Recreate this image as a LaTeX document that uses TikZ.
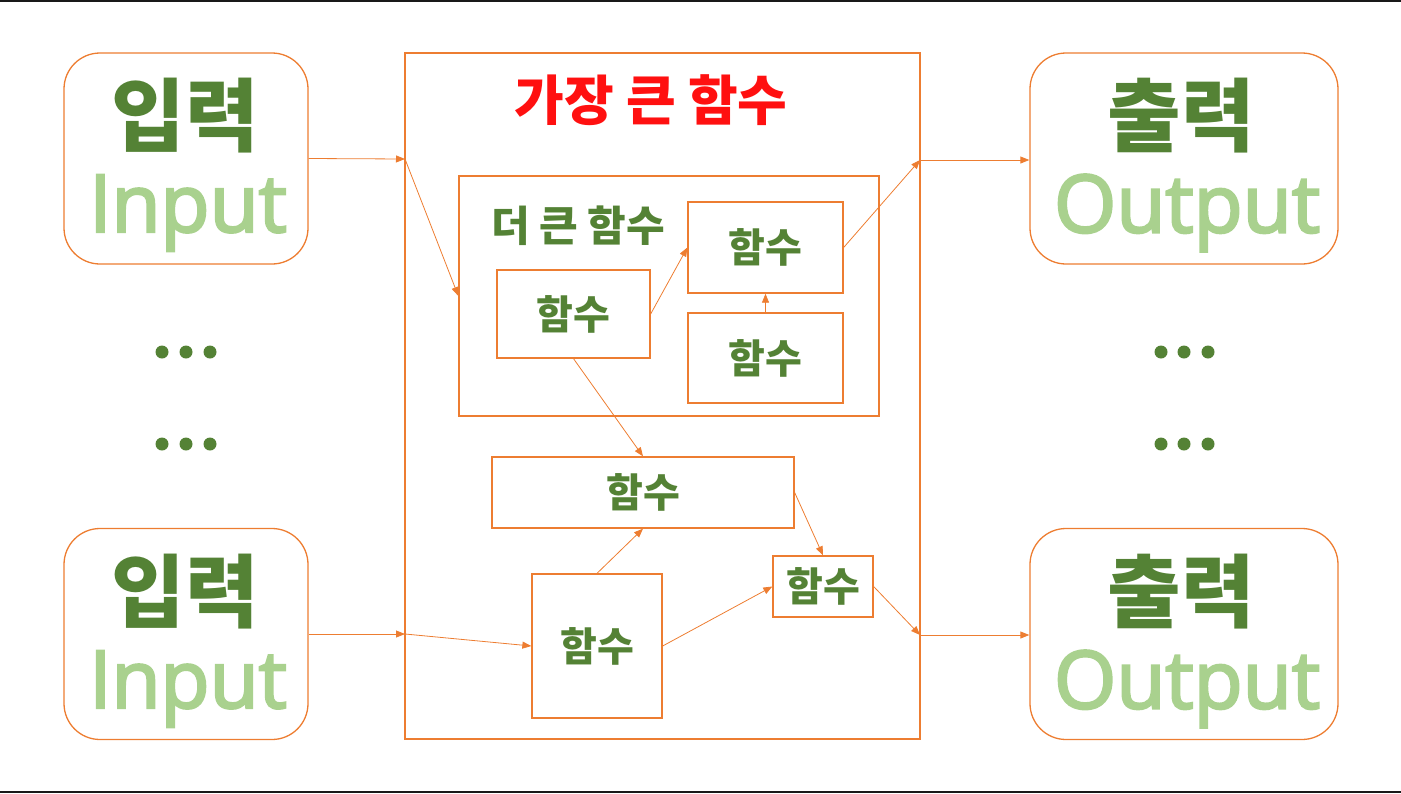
\documentclass[tikz,border=0pt]{standalone}
\usepackage{fontspec}
\setmainfont{Noto Sans CJK KR}
\newfontfamily\latinfont{Open Sans}[FakeBold=3]
\usetikzlibrary{arrows.meta}
\definecolor{boxorange}{RGB}{237,125,49}
\definecolor{darkgreen}{RGB}{84,130,53}
\definecolor{lightgreen}{RGB}{169,209,142}
\definecolor{titlered}{RGB}{255,16,16}

\begin{document}
\begin{tikzpicture}[x=1pt, y=-1pt]
    \tikzstyle{every node} = [inner sep = 0pt];
    \tikzstyle{io} = [draw = boxorange, line width = 1.3pt, rounded corners = 36pt];
    \tikzstyle{fn} = [draw = boxorange, line width = 1.3pt];
    \tikzstyle{kor} = [text = darkgreen, font = \bfseries\fontsize{80}{80}\selectfont];
    \tikzstyle{eng} = [text = lightgreen, font = \latinfont\fontsize{80}{80}\selectfont];
    \tikzstyle{fnlabel} = [text = darkgreen, font = \bfseries\fontsize{40}{40}\selectfont];
    \tikzstyle{arr} = [draw = boxorange, line width = .8pt, -{Triangle[length = 9pt, width = 7pt]}];
    \useasboundingbox (0,0) rectangle (1401,793);
    \fill[black!90] (0,0) rectangle (1401,1.5);
    \fill[black!90] (0,791) rectangle (1401,793);
    % inputs
    \node[io, minimum width = 244pt, minimum height = 211pt] (in1) at (186,158.5) {};
    \node[io, minimum width = 244pt, minimum height = 211pt] (in2) at (186,634) {};
    \node[kor] (in1k) at (185,115.5) {입력};
    \node[eng] (in1e) at (188,213) {Input};
    \node[kor] (in2k) at (185,591.5) {입력};
    \node[eng] (in2e) at (188,689) {Input};
    % outputs
    \node[io, minimum width = 308pt, minimum height = 211pt] (out1) at (1184,158.5) {};
    \node[io, minimum width = 308pt, minimum height = 211pt] (out2) at (1184,634) {};
    \node[kor] (out1k) at (1181,116) {출력};
    \node[eng] (out1e) at (1187,213) {Output};
    \node[kor] (out2k) at (1181,592) {출력};
    \node[eng] (out2e) at (1187,689) {Output};
    % dots
    \foreach \x in {162,186,210,1161,1184,1208} {
        \foreach \y in {352,444} {
            \fill[darkgreen] (\x,\y) circle (6.5pt);
        }
    }
    % functions
    \node[fn, minimum width = 515pt, minimum height = 686pt] (big) at (662.5,396) {};
    \node[text = titlered, font = \bfseries\fontsize{54}{54}\selectfont] (bigt) at (651,100) {가장 큰 함수};
    \node[fn, minimum width = 420pt, minimum height = 240pt] (mid) at (669,296) {};
    \node[fnlabel, font = \bfseries\fontsize{42}{42}\selectfont] (midt) at (578,226) {더 큰 함수};
    \node[fn, fnlabel, minimum width = 153pt, minimum height = 88pt] (fa) at (573.5,314) {함수};
    \node[fn, fnlabel, minimum width = 155pt, minimum height = 91pt] (fb) at (765.5,247.5) {함수};
    \node[fn, fnlabel, minimum width = 155pt, minimum height = 90pt] (fc) at (765.5,358) {함수};
    \node[fn, fnlabel, minimum width = 302pt, minimum height = 71pt] (fd) at (643,492.5) {함수};
    \node[fn, fnlabel, minimum width = 100pt, minimum height = 61pt] (fe) at (823,586.5) {함수};
    \node[fn, fnlabel, minimum width = 130pt, minimum height = 144pt] (ff) at (597,646) {함수};
    \coordinate (bl1) at (405,159);
    \coordinate (bl2) at (405,634);
    \coordinate (br1) at (920,160);
    \coordinate (br2) at (920,635);
    % connectors
    \draw[arr] (in1.east) -- (bl1);
    \draw[arr] (bl1) -- (mid.west);
    \draw[arr] (fa.east) -- (fb.west);
    \draw[arr] (fc.north) -- (fb.south);
    \draw[arr] (fb.east) -- (br1);
    \draw[arr] (br1) -- (out1.west |- br1);
    \draw[arr] (fa.south) -- (fd.north);
    \draw[arr] (fd.east) -- (fe.north);
    \draw[arr] (ff.north) -- (fd.south);
    \draw[arr] (ff.east) -- (fe.west);
    \draw[arr] (fe.east) -- (br2);
    \draw[arr] (br2) -- (out2.west |- br2);
    \draw[arr] (in2.east) -- (bl2);
    \draw[arr] (bl2) -- (ff.west);
\end{tikzpicture}
\end{document}
